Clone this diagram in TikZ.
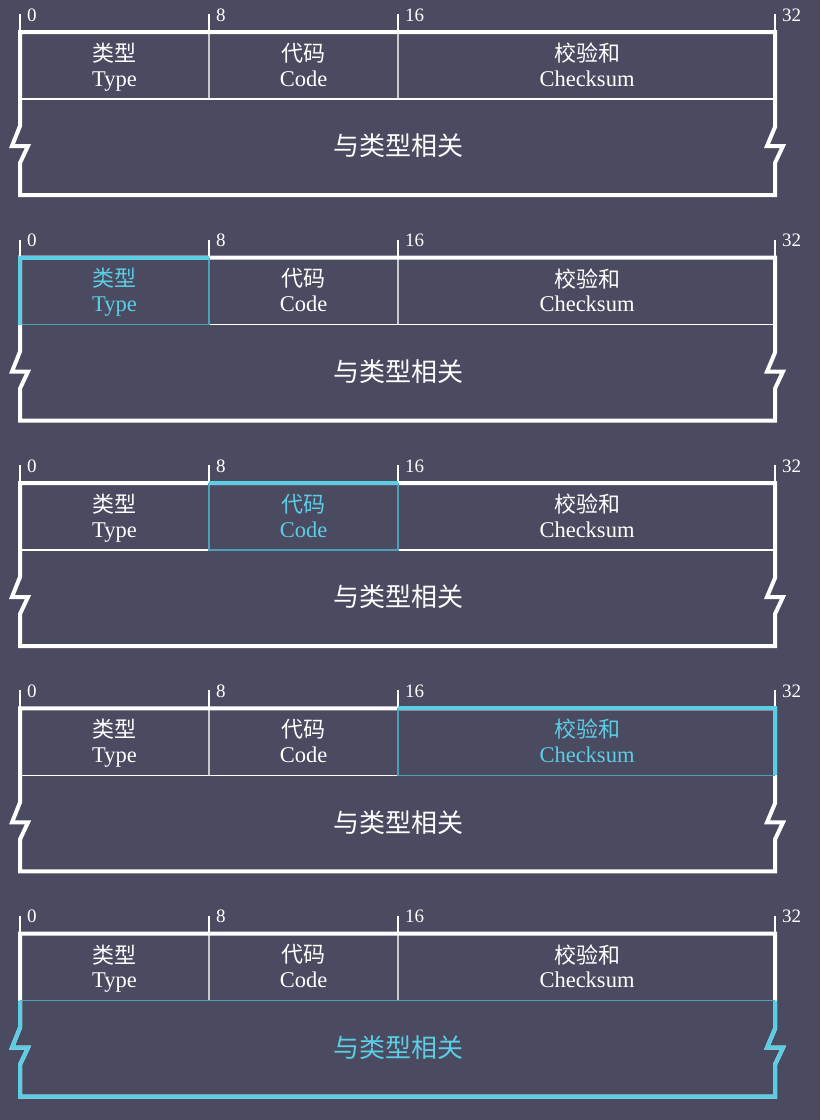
\documentclass[tikz,border=0pt]{standalone}
\usepackage{fontspec}
\setmainfont{Liberation Serif}
\newfontfamily\cjk{Noto Sans CJK SC}
\definecolor{bg}{RGB}{74,74,96}
\definecolor{hl}{RGB}{91,206,230}
\definecolor{hlthin}{RGB}{76,160,186}
\definecolor{divgray}{RGB}{200,200,208}
\tikzset{
  tickline/.style={draw=white, line width=1.9pt},
  ticklabel/.style={anchor=base west, inner sep=0pt, text=white, font=\fontsize{19}{19}\selectfont},
  divline/.style={draw=divgray, line width=1.5pt},
  midline/.style={draw=white, line width=1.5pt},
  border/.style={draw=white, line width=4pt, line join=miter},
  hlthick/.style={draw=hl, line width=4pt, line join=miter},
  hlthinline/.style={draw=hlthin, line width=1.5pt},
  cn/.style={inner sep=0pt, font=\cjk\fontsize{22}{22}\selectfont},
  en/.style={anchor=base, inner sep=0pt, font=\fontsize{22.5}{22.5}\selectfont},
  big/.style={inner sep=0pt, font=\cjk\fontsize{26}{26}\selectfont},
}
\newcommand\pktpanel[3]{%
  \def\ctype{white}\def\ccode{white}\def\csum{white}\def\cbody{white}%
  \ifcase#3\or\def\ctype{hl}\or\def\ccode{hl}\or\def\csum{hl}\or\def\cbody{hl}\fi
  \begin{scope}[shift={(0,#2)}]
    \foreach \x/\l in {20/0,209/8,398/16,775/32} {
      \draw[tickline] (\x,14) -- (\x,32);
      \node[ticklabel] (#1l\l) at (\x+7,21) {\l};
    }
    \draw[divline] (209,32) -- (209,99);
    \draw[divline] (398,32) -- (398,99);
    \draw[midline] (20,99) -- (775,99);
    \draw[border] (20,32) -- (775,32) -- (775,127) -- (767,146) -- (783,146) -- (775,163)
      -- (775,195) -- (20,195) -- (20,163) -- (28,146) -- (12,146) -- (20,126) -- cycle;
    \ifcase#3
    \or
      \draw[hlthinline] (209,32) -- (209,99) -- (20,99);
      \draw[hlthick] (20,99) -- (20,32) -- (209,32);
    \or
      \draw[hlthinline] (209,32) -- (209,99) -- (398,99) -- (398,32);
      \draw[hlthick] (209,32) -- (398,32);
    \or
      \draw[hlthinline] (398,32) -- (398,99) -- (775,99);
      \draw[hlthick] (398,32) -- (775,32) -- (775,99);
    \or
      \draw[hlthinline] (20,99) -- (775,99);
      \draw[hlthick] (20,99) -- (20,126) -- (12,146) -- (28,146) -- (20,163) -- (20,195)
        -- (775,195) -- (775,163) -- (783,146) -- (767,146) -- (775,127) -- (775,99);
    \fi
    \node[cn, text=\ctype] (#1tcn) at (114.5,53) {类型};
    \node[en, text=\ctype] (#1ten) at (114.5,86) {Type};
    \node[cn, text=\ccode] (#1ccn) at (303.5,53) {代码};
    \node[en, text=\ccode] (#1cen) at (303.5,86) {Code};
    \node[cn, text=\csum] (#1scn) at (587,53) {校验和};
    \node[en, text=\csum] (#1sen) at (587,86) {Checksum};
    \node[big, text=\cbody] (#1body) at (398,146) {与类型相关};
  \end{scope}}
\begin{document}
\begin{tikzpicture}[x=1pt, y=-1pt]
  \fill[bg] (0,0) rectangle (820,1120);
  \useasboundingbox (0,0) rectangle (820,1120);
  \pktpanel{a}{0}{0}
  \pktpanel{b}{225.6}{1}
  \pktpanel{c}{451}{2}
  \pktpanel{d}{676.4}{3}
  \pktpanel{e}{901.7}{4}
\end{tikzpicture}
\end{document}
